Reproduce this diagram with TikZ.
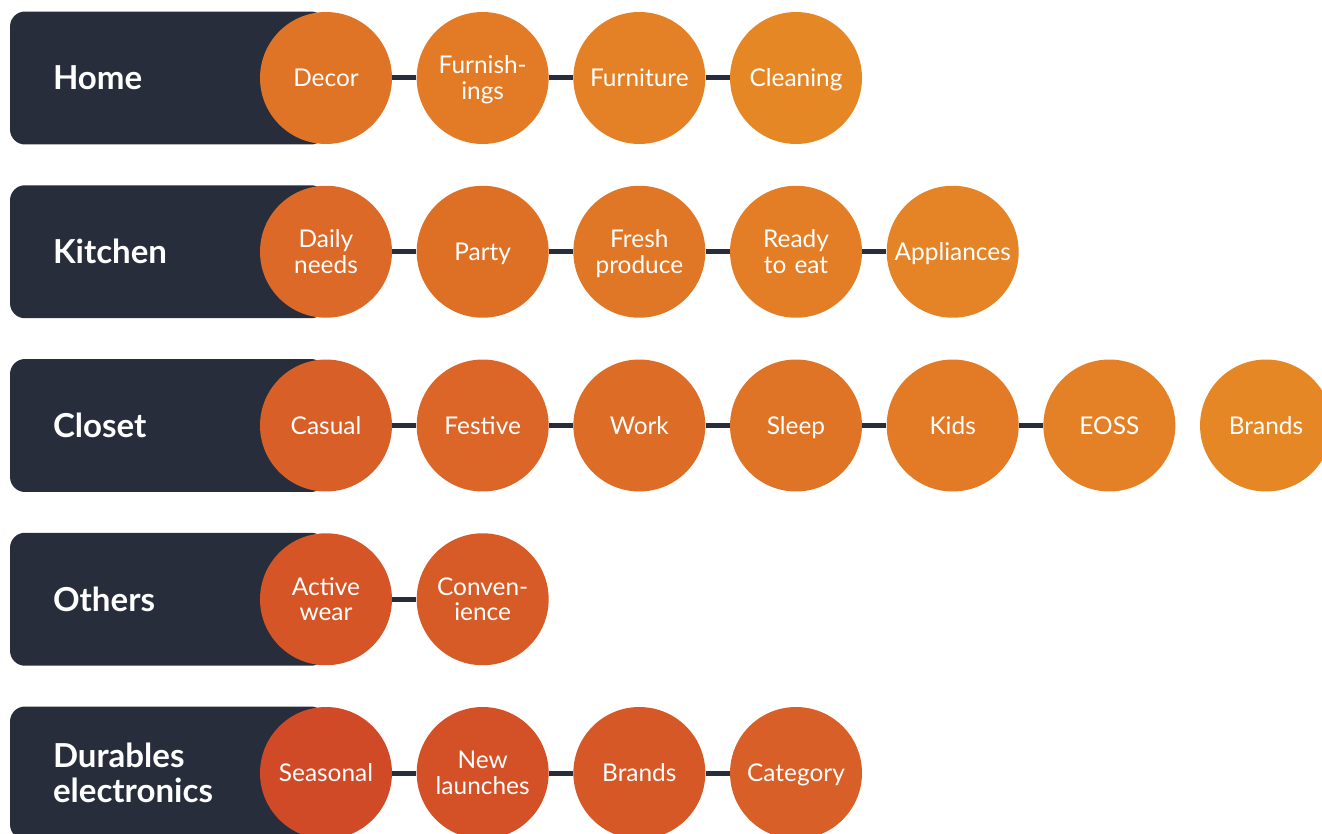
\documentclass[tikz,border=0pt]{standalone}
\usepackage{fontspec}
\setmainfont{Lato}
\usetikzlibrary{positioning}
\definecolor{navy}{HTML}{272D3A}
\definecolor{redA}{HTML}{D04727}
\definecolor{orangeB}{HTML}{E88D26}
\newcommand\topictop{\rule{0pt}{13.3pt}}
\newcommand\topicbot{\rule[-3.3pt]{0pt}{3.3pt}}
\newcommand\cattop{\rule{0pt}{18pt}}
\newcommand\catbot{\rule[-4.5pt]{0pt}{4.5pt}}

\begin{document}
\begin{tikzpicture}[x=0.02cm, y=-0.02cm,
    catbox/.style={fill=navy, rounded corners=0.3cm, minimum width=6.32cm, minimum height=2.66cm,
        text width=4.6cm, inner xsep=0.86cm, align=left, text=white,
        font=\bfseries\fontsize{18.8}{19.8}\selectfont,
        execute at begin node=\cattop, execute at end node=\catbot},
    topic/.style={circle, minimum size=2.64cm, inner sep=0pt, text width=2.4cm, align=center, text=white,
        font=\fontsize{13.9}{14.7}\selectfont,
        execute at begin node=\topictop, execute at end node=\topicbot},
    link/.style={draw=navy, line width=0.1cm}]
    \useasboundingbox (0,0) rectangle (1322,834);
    \clip (0,0) rectangle (1322,834);
    \foreach \cat/\n/\items [count=\r from 0] in {
        Home/4/{Decor,Furnish-\\ings,Furniture,Cleaning},
        Kitchen/5/{Daily\\needs,Party,Fresh\\produce,Ready\\to eat,Appliances},
        Closet/6/{Casual,Festive,Work,Sleep,Kids,EOSS,Brands},
        Others/2/{Active\\wear,Conven-\\ience},
        Durables\\electronics/4/{Seasonal,New\\launches,Brands,Category}}
    {
        \pgfmathsetmacro\py{78+173.75*\r}
        \node[catbox] (c\r) at (168,\py) {\cat}; % category box
        \foreach \item [count=\c from 0] in \items {
            \pgfmathsetmacro\px{326+156.67*\c}
            \pgfmathtruncatemacro\pct{max(0,min(100,(0.595*\px-0.804*\py+480)/9.6))}
            \node[topic, fill=orangeB!\pct!redA] (t\r-\c) at (\px,\py) {\item};
            \pgfmathtruncatemacro\cp{\c-1}
            \ifnum\c>0 \ifnum\c<\n
                \draw[link] (t\r-\cp) -- (t\r-\c); % connector
            \fi\fi
        }
    }
\end{tikzpicture}
\end{document}
